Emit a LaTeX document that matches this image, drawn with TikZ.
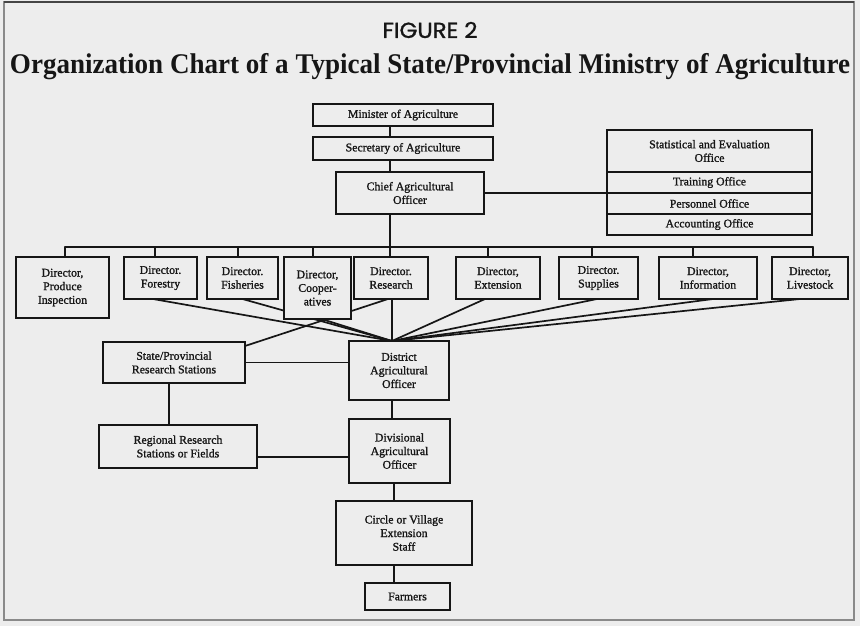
\documentclass[tikz,border=0pt]{standalone}
\usepackage{fontspec}
\usepackage{graphicx}
\setmainfont{Liberation Serif}
\newfontfamily\figfont{Poppins}[FakeBold=1.2]
\pgfdeclarelayer{paperlayer}
\pgfdeclarelayer{wirelayer}
\pgfsetlayers{paperlayer,wirelayer,main}

\definecolor{paper}{HTML}{EDEDED}
\definecolor{ink}{HTML}{161616}
\definecolor{frameline}{HTML}{8A8A8A}

\newcommand\boxfont{\fontsize{11.8}{13.6}\selectfont\addfontfeature{FakeBold=1.3}}

\begin{document}
\begin{tikzpicture}[x=1pt,y=-1pt,
  box/.style={draw=ink, line width=1.9pt, fill=paper, text=ink, align=center,
              inner sep=0pt, outer sep=0pt, font=\boxfont},
  wire/.style={draw=ink, line width=1.7pt, line cap=round}]

\useasboundingbox (0,0) rectangle (860,626);
\begin{pgfonlayer}{paperlayer}
  \fill[paper] (0,0) rectangle (860,626);
  \draw[frameline, line width=1.3pt] (4,2) rectangle (854,620);
  \draw[ink!80, line width=1.4pt] (4,2) -- (854,2);
\end{pgfonlayer}

% headings
\node[text=ink] (fig) at (430,30) {\resizebox{95pt}{16pt}{\figfont FIGURE 2}};
\node[text=ink, inner sep=0pt] (title) at (430,67)
  {\resizebox{840pt}{\height}{\fontsize{28.5}{32}\selectfont\bfseries Organization Chart of a Typical State/Provincial Ministry of Agriculture}};

% top of the hierarchy
\node[box, minimum width=180, minimum height=22] (minister)  at (403,115)   {Minister of Agriculture};
\node[box, minimum width=180, minimum height=23] (secretary) at (403,148.5) {Secretary of Agriculture};
\node[box, minimum width=148, minimum height=42] (chief)     at (410,193)   {Chief Agricultural\\Officer};

% staff offices
\node[box, minimum width=205, minimum height=42] (stat)       at (709.5,151)   {Statistical and Evaluation\\Office};
\node[box, minimum width=205, minimum height=21] (training)   at (709.5,182.5) {Training Office};
\node[box, minimum width=205, minimum height=21] (personnel)  at (709.5,203.5) {Personnel Office};
\node[box, minimum width=205, minimum height=21] (accounting) at (709.5,224.5) {Accounting Office};

% directors
\node[box, minimum width=93, minimum height=61] (produce)     at (62.5,287.5) {Director,\\Produce\\Inspection};
\node[box, minimum width=73, minimum height=42] (forestry)    at (160.5,278)  {Director.\\Forestry};
\node[box, minimum width=71, minimum height=42] (fisheries)   at (242.5,278)  {Director.\\Fisheries};
\node[box, minimum width=67, minimum height=62] (coop)        at (317.5,288)  {Director,\\Cooper-\\atives};
\node[box, minimum width=74, minimum height=42] (research)    at (391,278)    {Director.\\Research};
\node[box, minimum width=84, minimum height=42] (extension)   at (498,278)    {Director,\\Extension};
\node[box, minimum width=79, minimum height=42] (supplies)    at (598.5,278)  {Director.\\Supplies};
\node[box, minimum width=98, minimum height=42] (information) at (708,278)    {Director,\\Information};
\node[box, minimum width=76, minimum height=42] (livestock)   at (810,278)    {Director,\\Livestock};

% field organisation
\node[box, minimum width=142, minimum height=41] (stateprov)  at (174,362.5)  {State/Provincial\\Research Stations};
\node[box, minimum width=100, minimum height=59] (district)   at (399,370.5)  {District\\Agricultural\\Officer};
\node[box, minimum width=158, minimum height=43] (regional)   at (178,446.5)  {Regional Research\\Stations or Fields};
\node[box, minimum width=101, minimum height=64] (divisional) at (399.5,451)  {Divisional\\Agricultural\\Officer};
\node[box, minimum width=136, minimum height=64] (circle)     at (404,533)    {Circle or Village\\Extension\\Staff};
\node[box, minimum width=85,  minimum height=27] (farmers)    at (407.5,596.5) {Farmers};

% connectors
\coordinate (spine) at (390,0);
\coordinate (lowspine) at (392,0);
\coordinate (fieldspine) at (394,0);
\coordinate (researchline) at (169,0);
\coordinate (bus) at (0,247);
\coordinate (busL) at (65,247);
\coordinate (busR) at (813,247);
\coordinate (meet) at (district.north -| lowspine);

\begin{pgfonlayer}{wirelayer}
  \draw[wire] (minister.south -| spine) -- (secretary.north -| spine);
  \draw[wire] (secretary.south -| spine) -- (chief.north -| spine);
  \draw[wire] (chief.south -| spine) -- (bus -| spine);
  \draw[wire] (chief.east) -- (chief.east -| personnel.west);
  \draw[wire] (busL) -- (busR);
  \foreach \tx/\n in {65/produce,155/forestry,238/fisheries,313/coop,390/research,
                      488/extension,592/supplies,693/information,813/livestock}{
    \coordinate (tap-\n) at (\tx,247);
    \draw[wire] (tap-\n) -- (\n.north -| tap-\n);
  }
  % lines of command down to the district
  \draw[wire] ([xshift=-7.5pt]forestry.south) -- (meet);
  \draw[wire] (fisheries.south) -- (meet);
  \draw[wire] ([xshift=4pt]coop.south) -- (meet);
  \draw[wire] (research.south -| lowspine) -- (meet);
  \draw[wire] ([xshift=-13pt]extension.south) -- (meet);
  \draw[wire] ([xshift=-1.5pt]supplies.south) -- (meet);
  \draw[wire] ([xshift=5pt]information.south) -- (meet);
  \draw[wire] ([xshift=-10pt]livestock.south) -- (meet);
  % research stations
  \draw[wire] ([yshift=-4pt]stateprov.north east) -- ([xshift=-3pt]research.south);
  \draw[wire] (stateprov.east) -- (stateprov.east -| district.west);
  \draw[wire] (stateprov.south -| researchline) -- (regional.north -| researchline);
  \draw[wire] ([yshift=-10.5pt]regional.east) -- ([yshift=-10.5pt]regional.east -| divisional.west);
  % down to the farmers
  \draw[wire] (district.south -| lowspine) -- (divisional.north -| lowspine);
  \draw[wire] (divisional.south -| fieldspine) -- (circle.north -| fieldspine);
  \draw[wire] (circle.south -| fieldspine) -- (farmers.north -| fieldspine);
\end{pgfonlayer}
\end{tikzpicture}
\end{document}
